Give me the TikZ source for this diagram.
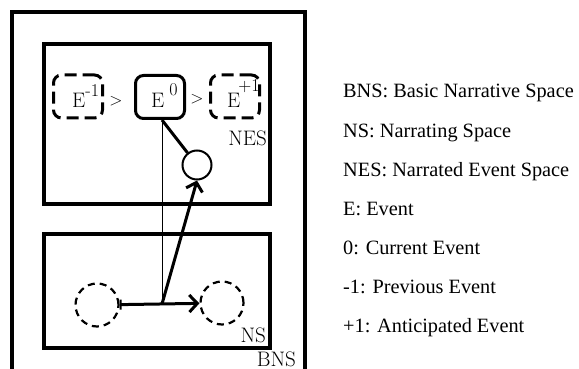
\documentclass[tikz,border=0pt]{standalone}
\usepackage{fontspec}
\newfontfamily\legendfont{Liberation Serif}
\usetikzlibrary{arrows.meta}
\begin{document}
\begin{tikzpicture}[x=1pt,y=-1pt,
  spacebox/.style={draw, line width=3.3pt},
  evbox/.style={draw, line width=3pt, rounded corners=8pt, minimum width=49pt, minimum height=43pt, inner sep=0pt},
  dashedev/.style={evbox, dash pattern=on 12pt off 6pt},
  evtext/.style={anchor=base west, inner sep=0pt, font=\fontsize{21}{25}\selectfont},
  lbl/.style={anchor=base east, inner sep=0pt, font=\fontsize{21}{25}\selectfont},
  gt/.style={inner sep=0pt, font=\fontsize{16}{19}\selectfont},
  leg/.style={anchor=base west, inner sep=0pt, font=\legendfont\fontsize{20.3}{24}\selectfont},
  dcirc/.style={draw, circle, line width=2.2pt, dash pattern=on 7pt off 5pt, minimum size=43pt, inner sep=0pt},
  arr/.style={line width=3pt, -{Straight Barb[length=8pt,width=17pt]}},
  harr/.style={line width=3pt, {Bar[width=10pt,line width=2pt]}-{Straight Barb[length=8pt,width=17pt]}},
]
\useasboundingbox (0,0) rectangle (579,369);
\fill[white] (0,0) rectangle (579,369);

% outer BNS space (open at bottom)
\draw[spacebox] (12,375) -- (12,12) -- (305,12) -- (305,375);
\node[lbl] (bns) at (296,366) {BNS};

% NES and NS boxes
\node[spacebox, minimum width=226pt, minimum height=160pt, inner sep=0pt] (nes) at (157,124) {};
\node[spacebox, minimum width=226pt, minimum height=114pt, inner sep=0pt] (ns) at (157,291) {};
\node[lbl] (neslbl) at (267,146) {NES};
\node[lbl] (nslbl) at (266,342) {NS};

% event boxes
\node[dashedev] (em) at (78,96.5) {};
\node[evbox] (e0) at (160,97) {};
\node[dashedev] (ep) at (235,96.5) {};
\node[evtext] (emt) at (72,108) {E\raisebox{12pt}{\fontsize{18}{20}\selectfont -1}};
\node[evtext] (e0t) at (151,108) {E\hspace{5pt}\raisebox{13pt}{\fontsize{18}{20}\selectfont 0}};
\node[evtext] (ept) at (227,108) {E\hspace{-2pt}\raisebox{17pt}{\fontsize{18}{20}\selectfont +1}};
\node[gt] (gt1) at (116,101) {$>$};
\node[gt] (gt2) at (197,99) {$>$};

% small circle
\node[draw, circle, line width=2pt, minimum size=29pt, inner sep=0pt] (c) at (197,165) {};

% NS circles
\node[dcirc] (l) at (97,305) {};
\node[dcirc] (r) at (222,303) {};
\coordinate (j) at (162,304);

% connectors
\draw[line width=1pt] (j |- e0.south) -- (j);
\draw[line width=3pt] (j |- e0.south) -- (c);
\draw[harr] (l) -- (r);
\draw[arr] (j) -- (c.south);

% legend
\node[leg] (g1) at (343,98) {BNS: Basic Narrative Space};
\node[leg] (g2) at (343,137) {NS: Narrating Space};
\node[leg] (g3) at (343,176) {NES: Narrated Event Space};
\node[leg] (g4) at (343,215) {E: Event};
\node[leg] (g5) at (343,254) {0: Current Event};
\node[leg] (g6) at (343,293) {-1: Previous Event};
\node[leg] (g7) at (343,332) {+1: Anticipated Event};
\end{tikzpicture}
\end{document}
